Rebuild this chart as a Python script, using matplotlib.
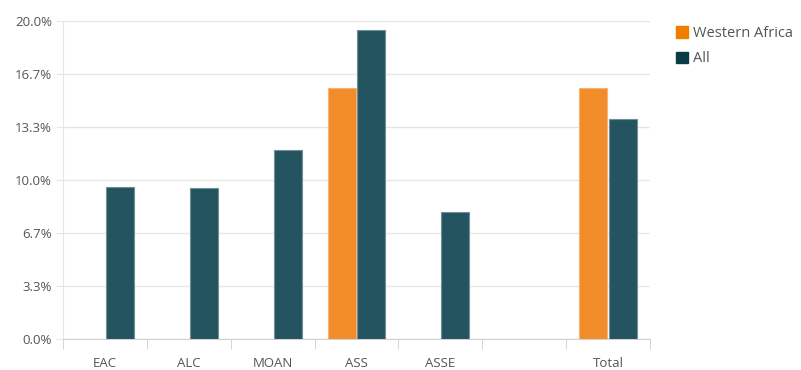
import matplotlib.pyplot as plt
import numpy as np

categories = ['EAC', 'ALC', 'MOAN', 'ASS', 'ASSE', '', 'Total']
western_africa = [np.nan, np.nan, np.nan, 15.8, np.nan, np.nan, 15.8]
all_regions = [9.55, 9.48, 11.87, 19.4, 7.97, np.nan, 13.83]
y_ticks = [0, 10 / 3, 20 / 3, 10, 40 / 3, 50 / 3, 20]

orange = '#F28C28'
teal = '#255461'
grid_col = '#e6e6e6'
text_col = '#555555'

plt.rcParams['font.family'] = ['Open Sans', 'DejaVu Sans']

fig = plt.figure(figsize=(8.01, 3.70), dpi=100)
ax = fig.add_axes([0.0787, 0.0838, 0.7328, 0.8602])

x = np.arange(len(categories))
w = 0.335
ax.bar(x - w / 2 - 0.01, western_africa, w, color=orange, edgecolor='#f7b27a',
       linewidth=0.8, zorder=3)
ax.bar(x + w / 2 + 0.01, all_regions, w, color=teal, edgecolor='#6f8f98',
       linewidth=0.8, zorder=3)

ax.set_xlim(-0.5, len(categories) - 0.5)
ax.set_ylim(0, 20)
ax.set_yticks(y_ticks)
ax.set_yticklabels(['%.1f%%' % v for v in y_ticks], color=text_col, fontsize=9.5)
ax.yaxis.grid(True, color=grid_col, linewidth=1, zorder=0)
ax.tick_params(axis='y', length=5, color=grid_col, pad=3)

ax.set_xticks(x)
ax.set_xticklabels(categories, color=text_col, fontsize=9.5)
ax.set_xticks(np.arange(len(categories) + 1) - 0.5, minor=True)
ax.tick_params(axis='x', which='major', length=0, pad=13)
ax.tick_params(axis='x', which='minor', length=7, color='#d0d0d0')

for s in ['top', 'right']:
    ax.spines[s].set_visible(False)
ax.spines['left'].set_color(grid_col)
ax.spines['bottom'].set_color('#d0d0d0')
ax.spines['left'].set_bounds(0, 20)

# legend
handles = [plt.Rectangle((0, 0), 1, 1, color='#F07D00'),
           plt.Rectangle((0, 0), 1, 1, color='#0A3B47')]
fig.legend(handles, ['Western Africa', 'All'], loc='upper left',
           bbox_to_anchor=(0.828, 0.965), frameon=False, fontsize=10.5,
           handlelength=0.8, handleheight=0.8, handletextpad=0.35,
           labelspacing=0.7, labelcolor=text_col)

fig.savefig('out.png', dpi=100)
